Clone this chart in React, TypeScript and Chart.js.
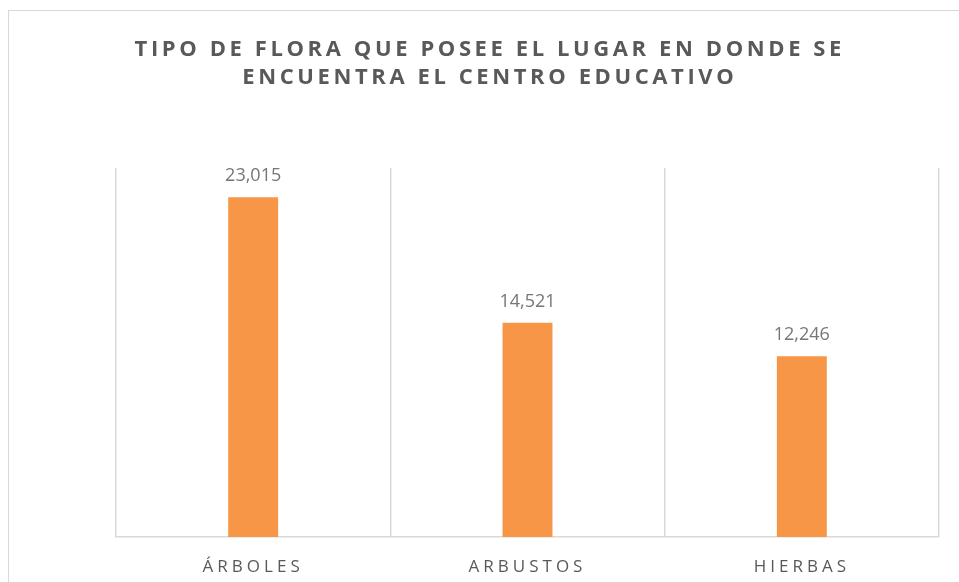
import React, { useEffect, useRef } from "react";
import { Chart, registerables } from "chart.js";

Chart.register(...registerables);

const categories = ["ÁRBOLES", "ARBUSTOS", "HIERBAS"];
const values = [23015, 14521, 12246];
const titleLines = ["TIPO DE FLORA QUE POSEE EL LUGAR EN DONDE SE", "ENCUENTRA EL CENTRO EDUCATIVO"];
const yMax = 25000;

const FONT = "'Open Sans', 'Liberation Sans', sans-serif";

const decorPlugin = {
  id: "decor",
  afterDraw(chart: any) {
    const ctx = chart.ctx as CanvasRenderingContext2D;
    const xScale = chart.scales.x;
    const meta = chart.getDatasetMeta(0);
    ctx.save();
    // title
    ctx.fillStyle = "#595959";
    ctx.font = `bold 22px ${FONT}`;
    (ctx as any).letterSpacing = "3.6px";
    ctx.textAlign = "center";
    ctx.textBaseline = "alphabetic";
    titleLines.forEach((line, i) => {
      ctx.fillText(line, 488 + 1.8, 56 + i * 28);
    });
    // tick labels
    ctx.font = `17px ${FONT}`;
    (ctx as any).letterSpacing = "4px";
    ctx.fillStyle = "#595959";
    categories.forEach((c, i) => {
      ctx.fillText(c, xScale.getPixelForValue(i), 572);
    });
    // data labels
    ctx.font = `18px ${FONT}`;
    (ctx as any).letterSpacing = "0px";
    ctx.fillStyle = "#767676";
    meta.data.forEach((bar: any, i: number) => {
      ctx.fillText(values[i].toLocaleString("en-US"), bar.x, bar.y - 16);
    });
    ctx.restore();
  },
};

export default function App() {
  const ref = useRef<HTMLCanvasElement | null>(null);
  useEffect(() => {
    if (!ref.current) return;
    const chart = new Chart(ref.current, {
      type: "bar",
      data: {
        labels: categories,
        datasets: [
          {
            data: values,
            backgroundColor: "#F79646",
            barPercentage: 0.182,
            categoryPercentage: 1,
          },
        ],
      },
      options: {
        animation: false,
        responsive: true,
        maintainAspectRatio: false,
        layout: { padding: { left: 116, right: 20, top: 168, bottom: 45 } },
        plugins: { legend: { display: false }, title: { display: false }, tooltip: { enabled: false } },
        scales: {
          x: {
            grid: { color: "#d9d9d9", drawTicks: false, lineWidth: 1.5 },
            border: { color: "#d9d9d9", width: 1.5 },
            ticks: { display: false },
          },
          y: { display: false, min: 0, max: yMax },
        },
      },
      plugins: [decorPlugin],
    });
    return () => chart.destroy();
  }, []);
  return (
    <div style={{ position: "fixed", left: 0, top: 0, width: 959, height: 582, background: "#fff" }}>
      <div
        style={{
          position: "absolute",
          left: 8,
          top: 10,
          width: 980,
          height: 600,
          borderTop: "1.5px solid #d9d9d9",
          borderLeft: "1.5px solid #d9d9d9",
        }}
      />
      <canvas ref={ref} style={{ position: "absolute", left: 0, top: 0 }} />
    </div>
  );
}
